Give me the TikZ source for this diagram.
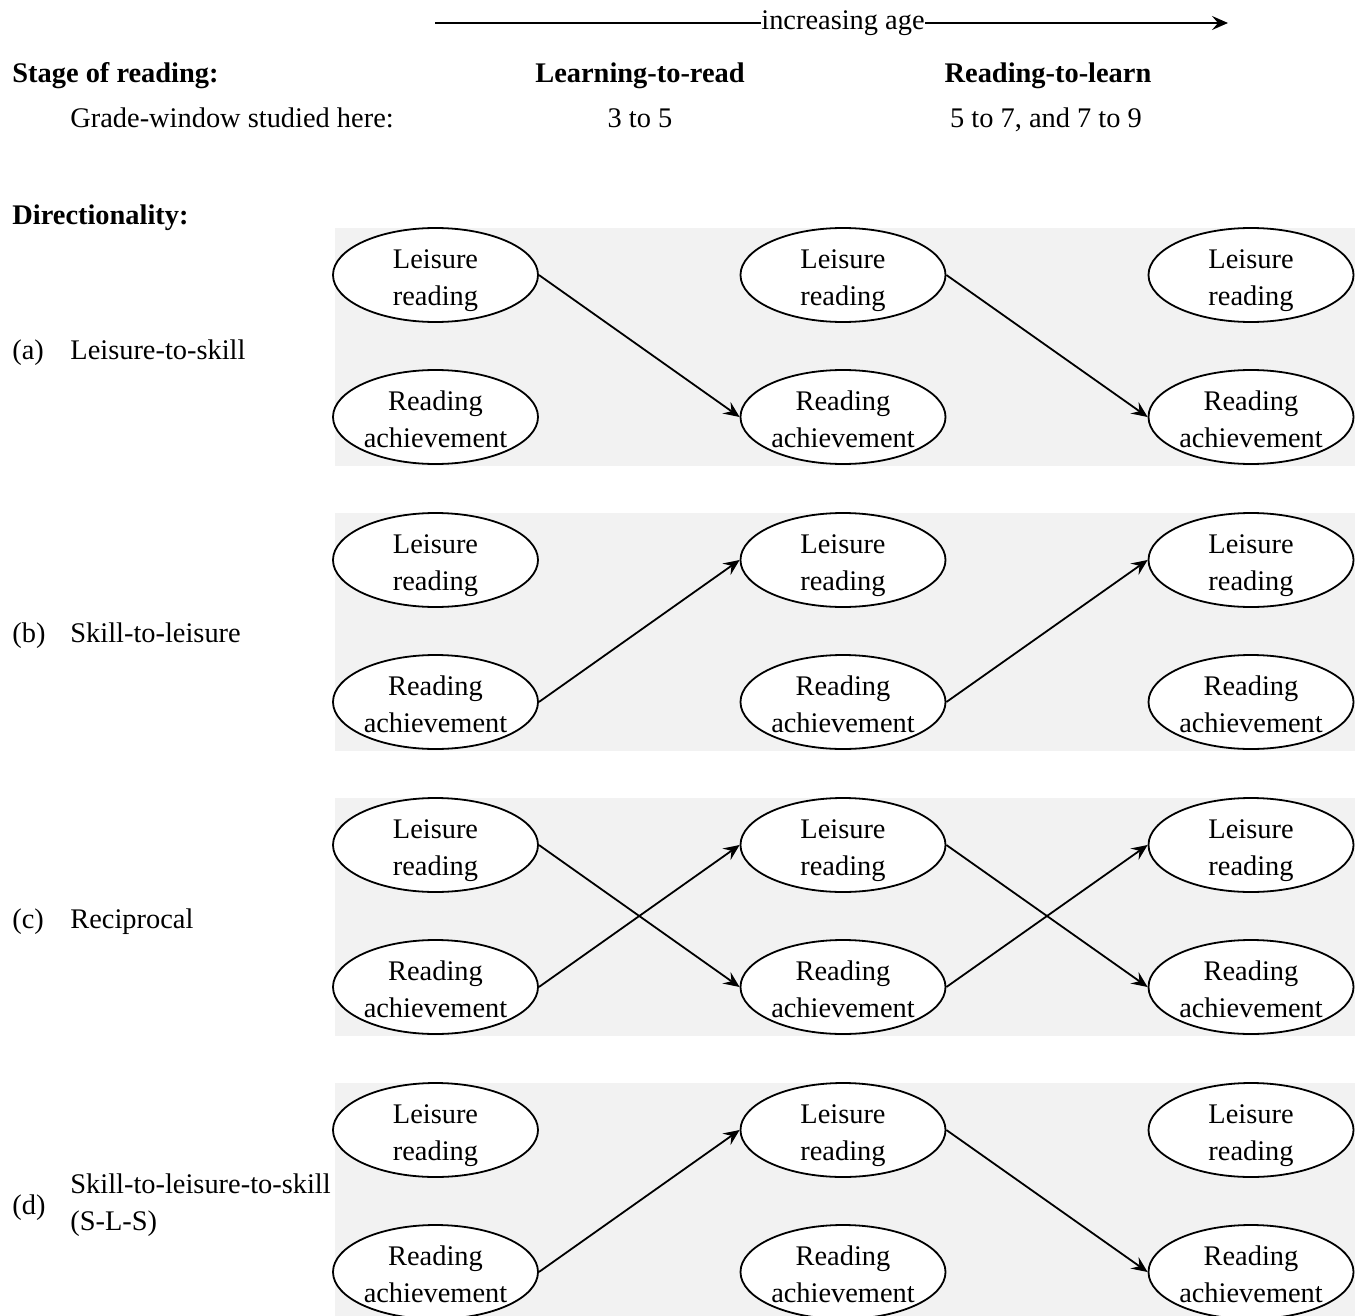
\documentclass[tikz,border=0pt]{standalone}
\usepackage{fontspec}
\setmainfont{Liberation Serif}
\usetikzlibrary{arrows.meta,shapes.geometric}
\definecolor{panelgray}{HTML}{F2F2F2}
\newcommand{\elltext}[2]{\raisebox{-5.8pt}[0pt][0pt]{\begin{tabular}{@{}c@{}}#1\\#2\end{tabular}}}
\tikzset{
  ell/.style={ellipse,draw=black,line width=0.9pt,fill=white,minimum width=102.5pt,minimum height=47pt,inner sep=0pt,font=\fontsize{14.2}{18.5}\selectfont},
  txt/.style={inner sep=0pt,font=\fontsize{14.2}{18.5}\selectfont},
  btxt/.style={inner sep=0pt,font=\fontsize{14.2}{18.5}\selectfont\bfseries},
  conn/.style={line width=0.9pt,-{Stealth[length=8pt,width=7pt,inset=3pt]}},
  panel/.style={fill=panelgray}
}
\begin{document}
\begin{tikzpicture}[x=0.5pt,y=-0.5pt]
\useasboundingbox (0,0) rectangle (1359,1316);
\begin{scope}
\clip (0,0) rectangle (1359,1316);
% top arrow
\node[txt,anchor=base] (age) at (843,30) {increasing age};
\coordinate (agestart) at (435,23);
\coordinate (ageend) at (1228,23);
\draw[line width=0.9pt] (agestart) -- (age.west |- agestart);
\draw[conn] (age.east |- ageend) -- (ageend);
% headings
\node[btxt,anchor=base west] (stage) at (12,83) {Stage of reading:};
\node[btxt,anchor=base] (ltr) at (640,83) {Learning-to-read};
\node[btxt,anchor=base] (rtl) at (1048,83) {Reading-to-learn};
\node[txt,anchor=base west] (grade) at (70,128) {Grade-window studied here:};
\node[txt,anchor=base] (g1) at (640,128) {3 to 5};
\node[txt,anchor=base] (g2) at (1046,128) {5 to 7, and 7 to 9};
\node[btxt,anchor=base west] (dir) at (12,225) {Directionality:};
% panels
\foreach \p/\y in {a/275,b/560,c/845,d/1130}{
  \fill[panel] (335,\y-47) rectangle (1355,\y+191);
  \foreach \c/\x in {1/435.5,2/843,3/1251}{
    \node[ell] (L\p\c) at (\x,\y) {\elltext{Leisure}{reading}};
    \node[ell] (A\p\c) at (\x,\y+142) {\elltext{Reading}{achievement}};
  }
}
\node[txt,anchor=base west] (laba) at (12,359) {(a)};
\node[txt,anchor=base west] (labb) at (12,642) {(b)};
\node[txt,anchor=base west] (labc) at (12,928) {(c)};
\node[txt,anchor=base west] (labd) at (12,1214) {(d)};
\node[txt,anchor=base west] (na) at (70,359) {Leisure-to-skill};
\node[txt,anchor=base west] (nb) at (70,642) {Skill-to-leisure};
\node[txt,anchor=base west] (nc) at (70,928) {Reciprocal};
\node[txt,anchor=base west] (nd1) at (70,1193) {Skill-to-leisure-to-skill};
\node[txt,anchor=base west] (nd2) at (70,1230) {(S-L-S)};
% connectors
\draw[conn] (La1.east) -- (Aa2.west);
\draw[conn] (La2.east) -- (Aa3.west);
\draw[conn] (Ab1.east) -- (Lb2.west);
\draw[conn] (Ab2.east) -- (Lb3.west);
\draw[conn] (Lc1.east) -- (Ac2.west);
\draw[conn] (Ac1.east) -- (Lc2.west);
\draw[conn] (Lc2.east) -- (Ac3.west);
\draw[conn] (Ac2.east) -- (Lc3.west);
\draw[conn] (Ad1.east) -- (Ld2.west);
\draw[conn] (Ld2.east) -- (Ad3.west);
\end{scope}
\end{tikzpicture}
\end{document}
